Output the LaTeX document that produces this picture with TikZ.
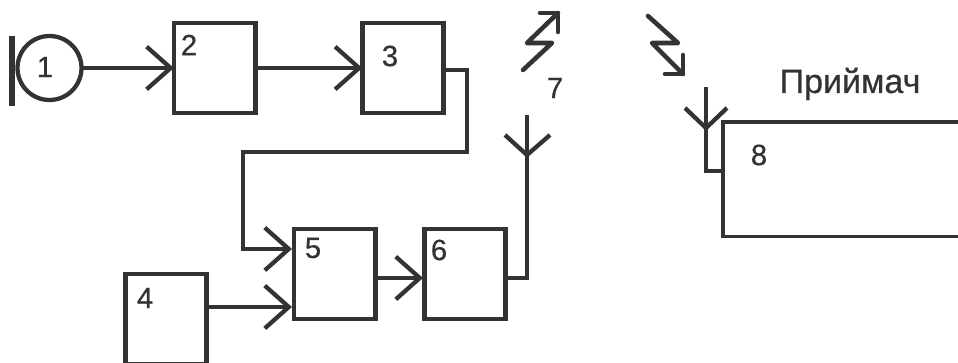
\documentclass[tikz,border=0pt]{standalone}
\usepackage{fontspec}
\setmainfont[FakeBold=0.5]{Liberation Sans}
\usetikzlibrary{arrows.meta}
\definecolor{ink}{HTML}{333333}
\tikzset{
  x=0.75pt,y=-0.75pt,
  block/.style={draw=ink,line width=3.5pt,minimum width=61pt,minimum height=67.5pt,inner sep=0pt,outer sep=0pt},
  wire/.style={draw=ink,line width=3.2pt,line join=miter},
  flow/.style={wire,-{Straight Barb[length=18pt,width=32pt,line width=3.2pt]}},
  tag/.style={text=ink,font=\fontsize{22}{26}\selectfont,inner sep=0pt},
  bolt/.style={draw=ink,line width=3.4pt,line cap=round,line join=round}
}
\begin{document}
\begin{tikzpicture}
\useasboundingbox (0,0) rectangle (958,363);
\fill[white] (0,0) rectangle (958,363);
\node[circle,draw=ink,line width=3.2pt,minimum size=48pt,inner sep=0pt,outer sep=0pt] (mic) at (49.5,68) {};
\coordinate (micA) at (12,36);
\coordinate (micB) at (12,106);
\draw[draw=ink,line width=3.8pt] (micA) -- (micB);
\node[block] (b2) at (214.5,68) {};
\node[block] (b3) at (403,68) {};
\node[block] (b4) at (166,319) {};
\node[block] (b5) at (334.5,274) {};
\node[block] (b6) at (465,274) {};
\node[draw=ink,line width=2.4pt,minimum width=184pt,minimum height=86pt,inner sep=0pt,outer sep=0pt,anchor=north west] (b8) at (723,122) {};
\coordinate (in5a) at (292,249);
\coordinate (in5b) at (292,307);
\coordinate (out4) at (208,307);
\coordinate (c1) at (467,70);
\coordinate (c2) at (467,152);
\coordinate (c3) at (243,152);
\coordinate (c4) at (243,249);
\coordinate (out3) at (444,70);
\coordinate (out5) at (377,278);
\coordinate (in6) at (423,278);
\coordinate (out6) at (507,278);
\coordinate (a7b) at (527,278);
\coordinate (a7t) at (527,115);
\coordinate (a7j) at (527,155);
\coordinate (a7l) at (505,135);
\coordinate (a7r) at (550,135);
\coordinate (a8t) at (706,87);
\coordinate (a8j) at (706,128);
\coordinate (a8l) at (685,108);
\coordinate (a8r) at (727,108);
\coordinate (a8b) at (706,171);
\coordinate (in8) at (723,171);
\draw[flow] (mic.east) -- (b2.west);
\draw[flow] (b2.east) -- (b3.west);
\draw[flow] (out3) -- (c1) -- (c2) -- (c3) -- (c4) -- (in5a);
\draw[flow] (out4) -- (in5b);
\draw[flow] (out5) -- (in6);
\draw[wire] (out6) -- (a7b) -- (a7t);
\draw[wire] (a7l) -- (a7j) -- (a7r);
\draw[wire] (a8t) -- (a8b) -- (in8);
\draw[wire] (a8l) -- (a8j) -- (a8r);
\coordinate (l1) at (523,70);
\coordinate (l2) at (552,43);
\coordinate (l3) at (527,43);
\coordinate (l4) at (558,13);
\coordinate (l5) at (540,13);
\coordinate (l6) at (558,32);
\coordinate (r1) at (648,16);
\coordinate (r2) at (678,43);
\coordinate (r3) at (652,43);
\coordinate (r4) at (683,74);
\coordinate (r5) at (665,74);
\coordinate (r6) at (683,55);
\draw[bolt] (l1) -- (l2) -- (l3) -- (l4);
\draw[bolt] (l5) -- (l4) -- (l6);
\draw[bolt] (r1) -- (r2) -- (r3) -- (r4);
\draw[bolt] (r5) -- (r4) -- (r6);
\node[tag] (t1) at (45,67) {1};
\node[tag] (t2) at (189,45) {2};
\node[tag] (t3) at (390,56) {3};
\node[tag] (t4) at (145,298) {4};
\node[tag] (t5) at (313,248) {5};
\node[tag] (t6) at (439,250) {6};
\node[tag] (t7) at (555,88) {7};
\node[tag] (t8) at (759,155) {8};
\node[text=ink,font=\fontsize{25.5}{30}\selectfont,inner sep=0pt,anchor=base] (rx) at (850,93) {Приймач};
\end{tikzpicture}
\end{document}
